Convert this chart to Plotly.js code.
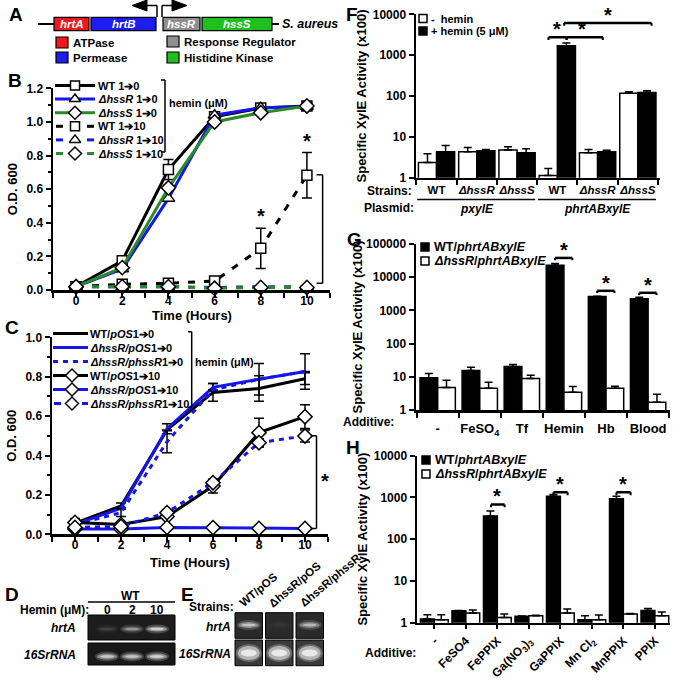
<!DOCTYPE html>
<html><head><meta charset="utf-8">
<script src="https://cdn.plot.ly/plotly-3.0.1.min.js"></script>
<style>html,body{margin:0;padding:0;background:#fff}#chart{width:673px;height:680px}</style>
</head><body><div id="chart"></div>
<script>
// ================= DATA =================
const timeHours = [0, 2, 4, 6, 8, 10];

// Panel B : O.D. 600, hemin shift 1 -> 0 / 1 -> 10 uM
const B_labels = ['WT 1➔0', '<i>ΔhssR</i> 1➔0', '<i>ΔhssS</i> 1➔0', 'WT 1➔10', '<i>ΔhssR</i> 1➔10', '<i>ΔhssS</i> 1➔10'];
const B_WT_0 = [0.02, 0.174, 0.717, 1.03, 1.083, 1.095];
const B_WT_0_err = [null, null, 0.06, null, null, null];
const B_R_0 = [0.02, 0.125, 0.545, 1.04, 1.085, 1.09];
const B_S_0 = [0.02, 0.133, 0.608, 1.0, 1.055, 1.095];
const B_WT_10 = [0.02, 0.034, 0.04, 0.053, 0.248, 0.683];
const B_WT_10_err = [null, null, null, null, 0.12, 0.135];
const B_R_10 = [0.02, 0.02, 0.02, 0.015, 0.02, 0.018];
const B_S_10 = [0.02, 0.02, 0.02, 0.01, 0.015, 0.015];

// Panel C : complementation
const C_labels = ['WT/<i>pOS</i>1➔0', '<i>ΔhssR/pOS</i>1➔0', '<i>ΔhssR/phssR</i>1➔0', 'WT/<i>pOS</i>1➔10', '<i>ΔhssR/pOS</i>1➔10', '<i>ΔhssR/phssR</i>1➔10'];
const C_WT_0 = [0.056, 0.144, 0.53, 0.72, 0.74, 0.79];
const C_WT_0_err = [null, 0.015, null, 0.045, 0.065, 0.03];
const C_R_0 = [0.05, 0.132, 0.536, 0.746, 0.787, 0.826];
const C_R_0_err = [null, null, 0.025, 0.02, null, 0.09];
const C_Rc_0 = [0.05, 0.11, 0.47, 0.733, 0.787, 0.826];
const C_Rc_0_err = [null, 0.02, 0.056, null, 0.08, null];
const C_WT_10 = [0.06, 0.05, 0.09, 0.245, 0.516, 0.597];
const C_WT_10_err = [0.02, null, null, 0.035, 0.073, 0.06];
const C_R_10 = [0.027, 0.027, 0.035, 0.034, 0.03, 0.03];
const C_Rc_10 = [0.035, 0.04, 0.11, 0.262, 0.465, 0.499];
const C_Rc_10_err = [null, null, null, null, 0.02, 0.03];

// Panel F : XylE activity
const F_strains = ['WT', '<i>ΔhssR</i>', '<i>ΔhssS</i>', 'WT', '<i>ΔhssR</i>', '<i>ΔhssS</i>'];
const F_plasmid = ['pxylE', 'pxylE', 'pxylE', 'phrtABxylE', 'phrtABxylE', 'phrtABxylE'];
const F_series = ['-  hemin', '+ hemin (5 μM)'];
const F_minus = [2.37, 4.33, 4.76, 1.14, 4.1, 116];
const F_minus_err = [1.5, 1.17, 0.94, 0.55, 0.8, 11];
const F_plus = [4.33, 4.6, 4.1, 1710, 4.33, 121];
const F_plus_err = [1.77, 0.3, 1.0, 280, 0.34, 13];

// Panel G
const G_additive = ['-', 'FeSO<sub>4</sub>', 'Tf', 'Hemin', 'Hb', 'Blood'];
const G_series = ['WT/<i>phrtABxylE</i>', '<i>ΔhssR</i>/<i>phrtABxylE</i>'];
const G_wt = [9.3, 15.5, 20.4, 22900, 2630, 2240];
const G_wt_err = [3.3, 4.0, 3.0, 2800, 60, 270];
const G_r = [4.8, 4.5, 8.9, 3.4, 4.5, 1.7];
const G_r_err = [3.1, 2.3, 2.3, 1.7, 0.7, 1.3];

// Panel H
const H_additive = ['-', 'FeSO4', 'FePPIX', 'Ga(NO<sub>3</sub>)<sub>3</sub>', 'GaPPIX', 'Mn Cl<sub>2</sub>', 'MnPPIX', 'PPIX'];
const H_series = ['WT/<i>phrtABxylE</i>', '<i>ΔhssR</i>/<i>phrtABxylE</i>'];
const H_wt = [1.22, 1.93, 358, 1.42, 1055, 1.18, 927, 1.97];
const H_wt_err = [0.33, 0.03, 112, 0.03, 115, 0.29, 128, 0.23];
const H_r = [1.18, 1.7, 1.34, 1.47, 1.7, 1.18, 1.61, 1.47];
const H_r_err = [0.37, 0.3, 0.27, 0.03, 0.42, 0.34, 0.06, 0.33];

// Panel D / E : RT-PCR gels (relative band intensity)
const D_hemin = ['0', '2', '10'];
const D_hrtA = [0.12, 0.45, 0.8];
const D_16S = [0.75, 0.72, 0.8];
const E_strains = ['WT/pOS', 'ΔhssR/pOS', 'ΔhssR/phssR'];
const E_hrtA = [0.7, 0.04, 0.6];
const E_16S = [1, 1, 1];

// Panel A : operon diagram
const A_genes = ['hrtA', 'hrtB', 'hssR', 'hssS'];
const A_roles = ['ATPase', 'Permease', 'Response Regulator', 'Histidine Kinase'];

// ================= STYLE / LAYOUT =================
const FONT = '"Liberation Sans", Arial, Helvetica, sans-serif';
const BLUE = '#1616e8', GREEN = '#2a8a2a';
const traces = [];
const shapes = [];
const annotations = [];

function T(x, y, text, o) {
  o = o || {};
  const f = Object.assign({family: FONT, size: 12, color: '#000', weight: 'bold'}, o.font || {});
  const a = Object.assign({xref: 'x6', yref: 'y6', x: x, y: y, text: text, showarrow: false,
    xanchor: 'center', yanchor: 'middle', borderpad: 0}, o);
  a.font = f;
  annotations.push(a);
}
function L(x0, y0, x1, y1, o) {
  o = o || {};
  shapes.push({type: 'line', xref: 'x6', yref: 'y6', x0: x0, y0: y0, x1: x1, y1: y1,
    line: {color: o.color || '#000', width: o.width || 1.5}});
}
function R(x0, y0, x1, y1, fill, lw, type) {
  shapes.push({type: type || 'rect', xref: 'x6', yref: 'y6', x0: x0, y0: y0, x1: x1, y1: y1,
    fillcolor: fill, line: {color: '#000', width: lw === undefined ? 1.2 : lw}});
}

const axBase = {showline: true, linecolor: '#000', linewidth: 2.5, ticks: 'outside', ticklen: 5,
  tickwidth: 2, tickcolor: '#000', showgrid: false, zeroline: false, fixedrange: true,
  tickfont: {family: FONT, size: 12, color: '#000', weight: 'bold'}};
const titleFont = {family: FONT, size: 13, color: '#000', weight: 'bold'};

// ---------- line-chart traces (B, C) ----------
function lineTr(xa, ya, y, err, color, dash, symbol, msize) {
  const t = {type: 'scatter', x: timeHours, y: y, xaxis: xa, yaxis: ya, cliponaxis: false,
    mode: symbol ? 'lines+markers' : 'lines',
    line: {color: color, width: 3, dash: dash || 'solid'}, hoverinfo: 'skip'};
  if (symbol) t.marker = {symbol: symbol, size: msize || 10, color: '#fff', line: {color: '#000', width: 1.5}};
  if (err) t.error_y = {type: 'data', array: err, color: '#000', thickness: 1.5, width: 5};
  traces.push(t);
}
const dashB = '7px,9px';
lineTr('x', 'y', B_WT_10, B_WT_10_err, '#000', dashB, 'square', 10);
lineTr('x', 'y', B_R_10, null, BLUE, dashB, 'triangle-up', 11);
lineTr('x', 'y', B_S_10, null, GREEN, dashB, 'diamond', 11);
lineTr('x', 'y', B_WT_0, B_WT_0_err, '#000', null, 'square', 10);
lineTr('x', 'y', B_R_0, null, BLUE, null, 'triangle-up', 11);
lineTr('x', 'y', B_S_0, null, GREEN, null, 'diamond', 11);

lineTr('x2', 'y2', C_WT_0, C_WT_0_err, '#000', null, null);
lineTr('x2', 'y2', C_R_0, C_R_0_err, BLUE, null, null);
lineTr('x2', 'y2', C_Rc_0, C_Rc_0_err, BLUE, '5px,5px', null);
lineTr('x2', 'y2', C_WT_10, C_WT_10_err, '#000', null, 'diamond', 11);
lineTr('x2', 'y2', C_R_10, null, BLUE, null, 'diamond', 11);
lineTr('x2', 'y2', C_Rc_10, C_Rc_10_err, BLUE, '5px,5px', 'diamond', 11);

// ---------- bar traces (F, G, H) ----------
function barTr(xa, ya, vals, errs, fill, w, off) {
  traces.push({type: 'bar', x: vals.map((v, i) => i), y: vals, xaxis: xa, yaxis: ya, width: w, offset: off,
    marker: {color: fill, line: {color: '#000', width: 1.5}}, hoverinfo: 'skip',
    error_y: {type: 'data', symmetric: false, array: errs, arrayminus: errs.map(() => 0),
      color: '#000', thickness: 1.5, width: 4}});
}
barTr('x3', 'y3', F_minus, F_minus_err, '#fff', 0.45, -0.45);
barTr('x3', 'y3', F_plus, F_plus_err, '#000', 0.45, 0);
barTr('x4', 'y4', G_wt, G_wt_err, '#000', 0.42, -0.42);
barTr('x4', 'y4', G_r, G_r_err, '#fff', 0.42, 0);
barTr('x5', 'y5', H_wt, H_wt_err, '#000', 0.44, -0.44);
barTr('x5', 'y5', H_r, H_r_err, '#fff', 0.44, 0);

// ---------- custom legend keys (pixel overlay axis x6/y6) ----------
function key(segs, y, color, dash, symbol, xm, msize) {
  const xs = [], ys = [];
  segs.forEach((s, i) => { if (i) { xs.push(null); ys.push(null); } xs.push(s[0], s[1]); ys.push(y, y); });
  traces.push({type: 'scatter', mode: 'lines', x: xs, y: ys, xaxis: 'x6', yaxis: 'y6', hoverinfo: 'skip',
    line: {color: color, width: 3, dash: dash || 'solid'}});
  if (symbol) traces.push({type: 'scatter', mode: 'markers', x: [xm], y: [y], xaxis: 'x6', yaxis: 'y6',
    hoverinfo: 'skip', cliponaxis: false,
    marker: {symbol: symbol, size: msize || 10, color: '#fff', line: {color: '#000', width: 1.5}}});
}
// B legend
const bCol = ['#000', BLUE, GREEN, '#000', BLUE, GREEN];
const bSym = ['square', 'triangle-up', 'diamond', 'square', 'triangle-up', 'diamond'];
B_labels.forEach((lab, i) => {
  const y = 85.5 + i * 13.6;
  const segs = i < 3 ? [[55, 95]] : [[56, 63], [87, 94]];
  key(segs, y, bCol[i], null, bSym[i], 75, i === 0 || i === 3 ? 9 : 10);
  T(97, y, lab, {xanchor: 'left', font: {size: 11}});
});
L(165, 80, 165, 152); L(161, 80, 165, 80); L(161, 152, 165, 152);
T(168, 103, 'hemin (μM)', {xanchor: 'left', font: {size: 11}});
// C legend
const cCol = ['#000', BLUE, BLUE, '#000', BLUE, BLUE];
C_labels.forEach((lab, i) => {
  const y = 333.5 + i * 14;
  let segs = [[53, 88]], dash = null, sym = null;
  if (i === 2) dash = '5px,5px';
  if (i >= 3) sym = 'diamond';
  if (i === 5) segs = [[54, 61], [82, 88]];
  key(segs, y, cCol[i], dash, sym, 72, 10);
  T(89, y, lab, {xanchor: 'left', font: {size: 11}});
});
L(191.7, 331.7, 191.7, 407.3); L(188, 331.7, 191.7, 331.7); L(188, 407.3, 191.7, 407.3);
T(194, 362, 'hemin (μM)', {xanchor: 'left', font: {size: 11}});

// axis titles of B / C placed tight under the tick labels
T(191.5, 315.5, 'Time (Hours)', {font: {size: 13}});
T(190, 562, 'Time (Hours)', {font: {size: 13}});

// significance brackets B / C (data coordinates)
function dl(xa, ya, x0, y0, x1, y1) {
  shapes.push({type: 'line', xref: xa, yref: ya, x0: x0, x1: x1, y0: y0, y1: y1, line: {color: '#000', width: 1.5}});
}
dl('x', 'y', 10.68, 0.04, 10.68, 0.685); dl('x', 'y', 10.42, 0.685, 10.68, 0.685); dl('x', 'y', 10.42, 0.04, 10.68, 0.04);
[[8, B_WT_10[4] + B_WT_10_err[4]], [10, B_WT_10[5] + B_WT_10_err[5]]].forEach(p => {
  annotations.push({xref: 'x', yref: 'y', x: p[0], y: p[1], yshift: 12, text: '*', showarrow: false,
    font: {family: FONT, size: 20, color: '#000', weight: 'bold'}, yanchor: 'middle'});
});
dl('x2', 'y2', 10.5, 0.03, 10.5, 0.5); dl('x2', 'y2', 10.25, 0.5, 10.5, 0.5); dl('x2', 'y2', 10.25, 0.03, 10.5, 0.03);
annotations.push({xref: 'x2', yref: 'y2', x: 10.87, y: 0.29, yshift: -4, text: '*', showarrow: false,
  font: {family: FONT, size: 20, color: '#000', weight: 'bold'}});

// F / G / H legends
function sqKey(x, y, fill) { R(x, y - 4, x + 8, y + 4, fill, 1.5); }
sqKey(419, 18.5, '#fff'); T(430, 18.5, F_series[0], {xanchor: 'left', font: {size: 11}});
sqKey(419, 31, '#000'); T(430, 31, F_series[1], {xanchor: 'left', font: {size: 11}});
sqKey(421, 247, '#000'); T(433, 247, G_series[0], {xanchor: 'left', font: {size: 12.5}});
sqKey(421, 261, '#fff'); T(433, 261, G_series[1], {xanchor: 'left', font: {size: 12.5}});
sqKey(422, 460, '#000'); T(434, 460, H_series[0], {xanchor: 'left', font: {size: 12.5}});
sqKey(422, 474, '#fff'); T(434, 474, H_series[1], {xanchor: 'left', font: {size: 12.5}});

// bar significance brackets: [xaxis, yaxis, x0, x1, log10 height, star x]
const brackets = [
  ['x3', 'y3', 2.78, 3.23, 3.44, 3.0], ['x3', 'y3', 3.23, 4.13, 3.44, 3.62], ['x3', 'y3', 3.17, 5.34, 3.79, 4.25],
  ['x4', 'y4', 2.79, 3.2, 4.58, 3.0], ['x4', 'y4', 3.79, 4.2, 3.59, 4.0], ['x4', 'y4', 4.79, 5.2, 3.53, 5.0],
  ['x5', 'y5', 1.8, 2.23, 2.83, 2.0], ['x5', 'y5', 3.78, 4.23, 3.12, 4.0], ['x5', 'y5', 5.78, 6.23, 3.12, 6.0]
];
brackets.forEach(b => {
  const yv = Math.pow(10, b[4]), yd = Math.pow(10, b[4] - 0.07);
  shapes.push({type: 'line', xref: b[0], yref: b[1], x0: b[2], x1: b[3], y0: yv, y1: yv, line: {color: '#000', width: 2.5}});
  shapes.push({type: 'line', xref: b[0], yref: b[1], x0: b[2], x1: b[2], y0: yd, y1: yv, line: {color: '#000', width: 2}});
  shapes.push({type: 'line', xref: b[0], yref: b[1], x0: b[3], x1: b[3], y0: yd, y1: yv, line: {color: '#000', width: 2}});
  annotations.push({xref: b[0], yref: b[1], x: b[5], y: b[4], yshift: 8, text: '*', showarrow: false,
    font: {family: FONT, size: 20, color: '#000', weight: 'bold'}});
});

// F second label row
T(413, 191, 'Strains:', {xanchor: 'right'});
T(415, 208, 'Plasmid:', {xanchor: 'right'});
[...new Set(F_plasmid)].forEach(p => {
  const idx = F_plasmid.map((q, i) => q === p ? i : -1).filter(i => i >= 0);
  const lo = Math.min(...idx), hi = Math.max(...idx);
  shapes.push({type: 'line', xref: 'x3', yref: 'paper', x0: lo - 0.48, x1: hi + 0.45,
    y0: 1 - 199.5 / 680, y1: 1 - 199.5 / 680, line: {color: '#000', width: 1.5}});
  annotations.push({xref: 'x3', yref: 'paper', x: (lo + hi) / 2, y: 1 - 208.5 / 680, text: '<i>' + p + '</i>',
    showarrow: false, yanchor: 'middle', font: {family: FONT, size: 12, color: '#000', weight: 'bold'}});
});
T(395, 422, 'Additive:', {xanchor: 'right'});
T(417, 653, 'Additive:', {xanchor: 'right'});

// ---------- Panel A : operon ----------
const geneBox = [[54, 89, '#f01818'], [91, 156, '#1c1cf0'], [163, 200, '#8f8f8f'], [202, 272, '#1fbf1f']];
L(38, 24, 54, 24, {width: 2}); L(272, 24, 279, 24, {width: 2});
A_genes.forEach((g, i) => {
  const b = geneBox[i];
  R(b[0], 17.3, b[1], 30.7, b[2], 1.2);
  T((b[0] + b[1]) / 2, 24, g, {font: {size: 11.5, color: '#fff', style: 'italic'}});
});
T(281, 24, 'S. aureus', {xanchor: 'left', font: {size: 12.5, style: 'italic'}});
// promoter arrows
L(157, 17, 157, 5.5, {width: 1.5}); L(162, 17, 162, 5.5, {width: 1.5});
L(146, 5.5, 157, 5.5, {width: 1.5}); L(162, 5.5, 173, 5.5, {width: 1.5});
shapes.push({type: 'path', xref: 'x6', yref: 'y6', path: 'M 147 0 L 132 5.5 L 147 11 Z', fillcolor: '#000', line: {color: '#000', width: 1}});
shapes.push({type: 'path', xref: 'x6', yref: 'y6', path: 'M 172 0 L 187 5.5 L 172 11 Z', fillcolor: '#000', line: {color: '#000', width: 1}});
const roleKey = [[56, 42.5], [56, 57.5], [167, 41.5], [167, 57.5]];
A_roles.forEach((r, i) => {
  const k = roleKey[i];
  R(k[0], k[1] - 5.5, k[0] + 12, k[1] + 5.5, geneBox[i][2], 1.2);
  T(k[0] + 16, k[1], r, {xanchor: 'left', font: {size: 11.5}});
});

// ---------- Panel D / E : gels ----------
function band(cx, cy, w, h, v) {
  if (v <= 0.02) return;
  shapes.push({type: 'circle', xref: 'x6', yref: 'y6', x0: cx - w / 2 - 2, x1: cx + w / 2 + 2, y0: cy - h / 2 - 2, y1: cy + h / 2 + 2,
    fillcolor: 'rgba(255,255,255,' + (0.25 * v).toFixed(3) + ')', line: {width: 0}});
  shapes.push({type: 'circle', xref: 'x6', yref: 'y6', x0: cx - w / 2, x1: cx + w / 2, y0: cy - h / 2, y1: cy + h / 2,
    fillcolor: 'rgba(255,255,255,' + (0.5 * v).toFixed(3) + ')', line: {width: 0}});
  shapes.push({type: 'circle', xref: 'x6', yref: 'y6', x0: cx - w / 2 + 3, x1: cx + w / 2 - 3, y0: cy - h / 4, y1: cy + h / 4,
    fillcolor: 'rgba(255,255,255,' + (0.7 * v).toFixed(3) + ')', line: {width: 0}});
}
T(130, 596, 'WT');
L(88, 602, 175, 602, {width: 1.5});
T(90, 610, 'Hemin (μM):', {xanchor: 'right'});
R(88, 615, 175, 640, '#1c1c1c', 1);
R(88, 643, 175, 665, '#181818', 1);
D_hemin.forEach((h, i) => {
  const cx = 107 + i * 25;
  T(cx, 610, h);
  band(cx, 629, 20, 5, D_hrtA[i]);
  band(cx, 656.5, 20, 6, D_16S[i]);
});
T(77, 628, 'hrtA', {xanchor: 'right', font: {style: 'italic'}});
T(77, 655, '16SrRNA', {xanchor: 'right', font: {style: 'italic'}});

T(235, 607, 'Strains:', {xanchor: 'right'});
E_strains.forEach((s, i) => {
  const x0 = 235 + i * 30.5;
  R(x0, 612.7, x0 + 27.5, 638.3, '#2a2a2a', 1);
  R(x0, 640, x0 + 27.5, 665.7, '#3a3a3a', 1);
  band(x0 + 13.75, 625, 20, 6, E_hrtA[i]);
  band(x0 + 13.75, 653, 22, 14, E_16S[i]);
  const len = [47, 65, 77][i] / 2;
  const a = 40 * Math.PI / 180;
  T(x0 + 5 + len * Math.cos(a), 605 - len * Math.sin(a), s, {textangle: -40, font: {size: 11.5}});
});
T(232, 627, 'hrtA', {xanchor: 'right', font: {style: 'italic'}});
T(232, 654, '16SrRNA', {xanchor: 'right', font: {style: 'italic'}});

// panel letters
[['A', 16, 14], ['B', 15, 80], ['C', 12, 327], ['D', 12, 594], ['E', 187, 594], ['F', 352, 14], ['G', 354, 239], ['H', 353, 447]]
  .forEach(p => T(p[1], p[2], p[0], {font: {size: 19}}));

const X = p => p / 673, Y = p => 1 - p / 680;
const logTicks = n => Array.from({length: n + 1}, (_, i) => Math.pow(10, i));

const layout = {
  width: 673, height: 680, margin: {l: 0, r: 0, t: 0, b: 0},
  paper_bgcolor: '#fff', plot_bgcolor: 'rgba(0,0,0,0)', showlegend: false, barmode: 'overlay',
  font: {family: FONT, size: 12, color: '#000'},
  xaxis: Object.assign({}, axBase, {domain: [X(53), X(330)], range: [-1, 11], anchor: 'y', tick0: 0, dtick: 2,
    ticklabelstandoff: -7,
    minor: {dtick: 1, tick0: 0, ticks: 'outside', ticklen: 5, tickwidth: 2, tickcolor: '#000'}}),
  yaxis: Object.assign({}, axBase, {domain: [Y(290), Y(88.3)], range: [0, 1.2], anchor: 'x', dtick: 0.2, tickformat: '.1f',
    minor: {dtick: 0.1, ticks: 'outside', ticklen: 3, tickwidth: 2, tickcolor: '#000'},
    title: {text: 'O.D. 600', font: titleFont, standoff: 6}}),
  xaxis2: Object.assign({}, axBase, {domain: [X(52), X(328)], range: [-1, 11], anchor: 'y2', tick0: 0, dtick: 2,
    ticklabelstandoff: -7,
    minor: {dtick: 1, tick0: 0, ticks: 'outside', ticklen: 5, tickwidth: 2, tickcolor: '#000'}}),
  yaxis2: Object.assign({}, axBase, {domain: [Y(534.3), Y(337.3)], range: [0, 1.0], anchor: 'x2', dtick: 0.2, tickformat: '.1f',
    minor: {dtick: 0.1, ticks: 'outside', ticklen: 3, tickwidth: 2, tickcolor: '#000'},
    title: {text: 'O.D. 600', font: titleFont, standoff: 6}}),
  xaxis3: Object.assign({}, axBase, {domain: [X(416), X(660)], range: [-0.51, 5.55], anchor: 'y3',
    tickmode: 'array', tickvals: F_strains.map((s, i) => i), ticktext: F_strains, ticks: '', ticklabelstandoff: 0,
    tickfont: {family: FONT, size: 11.5, color: '#000', weight: 'bold'},
    minor: {tickmode: 'linear', tick0: 0.5, dtick: 1, ticks: 'outside', ticklen: 5, tickwidth: 2, tickcolor: '#000'}}),
  yaxis3: Object.assign({}, axBase, {domain: [Y(177.7), Y(14.3)], type: 'log', range: [0, 4], anchor: 'x3',
    tickmode: 'array', tickvals: logTicks(4), ticktext: logTicks(4).map(String),
    title: {text: 'Specific XylE Activity (x100)', font: titleFont, standoff: 3}}),
  xaxis4: Object.assign({}, axBase, {domain: [X(416), X(670)], range: [-0.515, 5.52], anchor: 'y4',
    tickmode: 'array', tickvals: G_additive.map((s, i) => i), ticktext: G_additive, ticks: '', ticklabelstandoff: 5,
    tickfont: {family: FONT, size: 13, color: '#000', weight: 'bold'},
    minor: {tickmode: 'linear', tick0: 0.5, dtick: 1, ticks: 'outside', ticklen: 5, tickwidth: 2, tickcolor: '#000'}}),
  yaxis4: Object.assign({}, axBase, {domain: [Y(410), Y(244)], type: 'log', range: [0, 5], anchor: 'x4',
    tickmode: 'array', tickvals: logTicks(5), ticktext: logTicks(5).map(String),
    title: {text: 'Specific XylE Activity (x100)', font: titleFont, standoff: 1}}),
  xaxis5: Object.assign({}, axBase, {domain: [X(417), X(670)], range: [-0.55, 7.48], anchor: 'y5',
    tickmode: 'array', tickvals: H_additive.map((s, i) => i), ticktext: H_additive, tickangle: -45, ticklen: 4}),
  yaxis5: Object.assign({}, axBase, {domain: [Y(622.7), Y(455.5)], type: 'log', range: [0, 4], anchor: 'x5',
    tickmode: 'array', tickvals: logTicks(4), ticktext: logTicks(4).map(String),
    title: {text: 'Specific XylE Activity (x100)', font: titleFont, standoff: 3}}),
  xaxis6: {domain: [0, 1], range: [0, 673], visible: false, anchor: 'y6', fixedrange: true},
  yaxis6: {domain: [0, 1], range: [680, 0], visible: false, anchor: 'x6', fixedrange: true},
  shapes: shapes,
  annotations: annotations
};

Plotly.newPlot('chart', traces, layout, {staticPlot: true, displayModeBar: false});
</script></body></html>
